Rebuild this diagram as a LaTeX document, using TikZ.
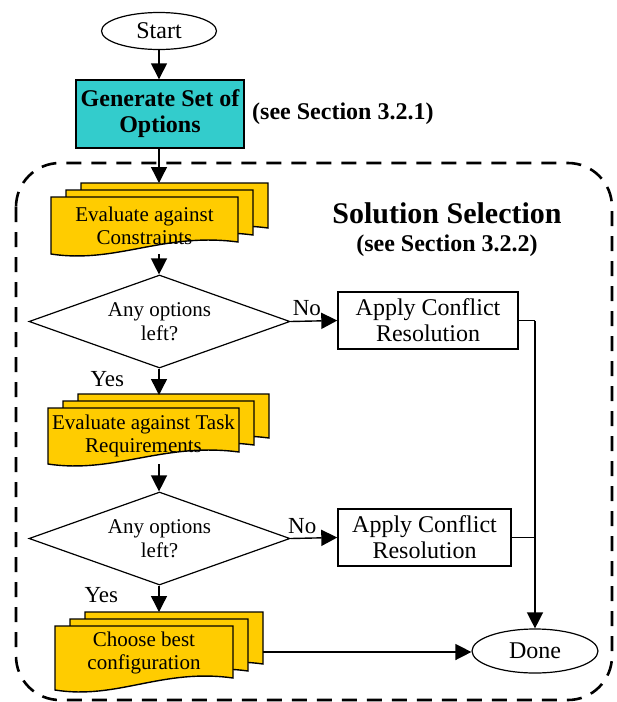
\documentclass[tikz,border=0pt]{standalone}
\usepackage{fontspec}
\setmainfont{Liberation Serif}
\usetikzlibrary{shapes.geometric,arrows.meta}

\definecolor{optcyan}{RGB}{51,204,204}
\definecolor{docyellow}{RGB}{255,204,0}

\tikzset{
    flow/.style={line width=1.4pt,-{Triangle[length=16pt,width=16pt]}},
    link/.style={line width=1.4pt},
    terminal/.style={draw,ellipse,line width=1.2pt,inner sep=0pt,font=\fontsize{24}{26}\selectfont},
    action/.style={draw,rectangle,line width=1.4pt,inner sep=0pt,align=center,font=\fontsize{24}{26}\selectfont},
    question/.style={draw,diamond,aspect=2.8,line width=1.2pt,inner sep=0pt,align=center,font=\fontsize{21}{24}\selectfont},
    doctext/.style={rectangle,inner sep=0pt,align=center,font=\fontsize{21}{23}\selectfont},
    docsheet/.style={draw=black,fill=docyellow,line width=1.4pt,line join=miter},
    answer/.style={font=\fontsize{23}{25}\selectfont},
}

% one sheet with a wavy bottom: left, top, width, height
\newcommand{\docsheet}[4]{%
    \filldraw[docsheet] (#1,#2) -- (#1+#3,#2) -- (#1+#3,#2+#4-12)
        .. controls (#1+0.6*#3,#2+#4-22) and (#1+0.35*#3,#2+#4+10) .. (#1,#2+#4) -- cycle;}
% three sheets stacked
\newcommand{\docstack}[4]{%
    \docsheet{#1+30}{#2-14}{#3}{#4}%
    \docsheet{#1+15}{#2-7}{#3}{#4}%
    \docsheet{#1}{#2}{#3}{#4}}

\begin{document}
\begin{tikzpicture}[x=1pt,y=-1pt]
    \useasboundingbox (0,0) rectangle (617,702);

    % solution selection frame
    \draw[line width=2.6pt,dash pattern=on 15pt off 10pt,rounded corners=44pt] (16,163) rectangle (612,700);
    \node[font=\bfseries\fontsize{30}{32}\selectfont] (solsel) at (447,213) {Solution Selection};
    \node[font=\bfseries\fontsize{24}{26}\selectfont] (solref) at (447,246) {(see Section 3.2.2)};

    % start and option generation
    \node[terminal,minimum width=115,minimum height=37] (start) at (159,31) {Start};
    \node[action,fill=optcyan,minimum width=168,minimum height=68,font=\bfseries\fontsize{24}{26}\selectfont] (gen) at (160,114) {Generate Set of\\Options};
    \node[anchor=west,font=\bfseries\fontsize{24}{26}\selectfont] (genref) at (gen.east) {\,(see Section 3.2.1)};

    % constraints
    \docstack{51}{197}{187}{57}
    \coordinate (cons top) at (159,183);
    \node[doctext,minimum width=187,minimum height=57] (cons) at (144.5,225.5) {Evaluate against\\Constraints};

    \node[question,minimum width=261,minimum height=93] (ask1) at (159.5,321.5) {Any options\\left?};
    \node[action,minimum width=180,minimum height=57] (res1) at (428,320.5) {Apply Conflict\\Resolution};

    % task requirements
    \docstack{48}{408}{191}{56}
    \coordinate (task top) at (159,395);
    \node[doctext,minimum width=191,minimum height=56] (task) at (143.5,436) {Evaluate against Task\\Requirements};

    \node[question,minimum width=261,minimum height=93] (ask2) at (159.5,538.5) {Any options\\left?};
    \node[action,minimum width=173,minimum height=57] (res2) at (424.5,537.5) {Apply Conflict\\Resolution};

    % best configuration
    \docstack{55}{626}{178}{64}
    \coordinate (best top) at (159,612);
    \coordinate (best side) at (263,652);
    \node[doctext,minimum width=178,minimum height=64] (best) at (144,653) {Choose best\\configuration};

    \node[terminal,minimum width=126,minimum height=44] (done) at (535,651) {Done};
    \coordinate (join1) at (535,320.5);
    \coordinate (join2) at (535,537.5);

    % connectors
    \draw[flow] (start) -- (start |- gen.north);
    \draw[flow] (gen.south -| start) -- (cons top);
    \draw[flow] (cons.south -| start) -- (start |- ask1.north);
    \draw[flow] (ask1.east) -- (res1.west) node[answer,pos=0.35,above=1pt] {No};
    \draw[flow] (start |- ask1.south) -- (task top) node[answer,pos=0.4,left=31pt] {Yes};
    \draw[flow] (task.south -| start) -- (start |- ask2.north);
    \draw[flow] (ask2.east) -- (res2.west) node[answer,pos=0.25,above=1pt] {No};
    \draw[flow] (start |- ask2.south) -- (best top) node[answer,pos=0.35,left=37pt] {Yes};
    \draw[link] (res1.east) -- (join1);
    \draw[link] (res2.east) -- (join2);
    \draw[flow] (join1) -- (done.north);
    \draw[flow] (best side) -- (done.west |- best side);
\end{tikzpicture}
\end{document}
